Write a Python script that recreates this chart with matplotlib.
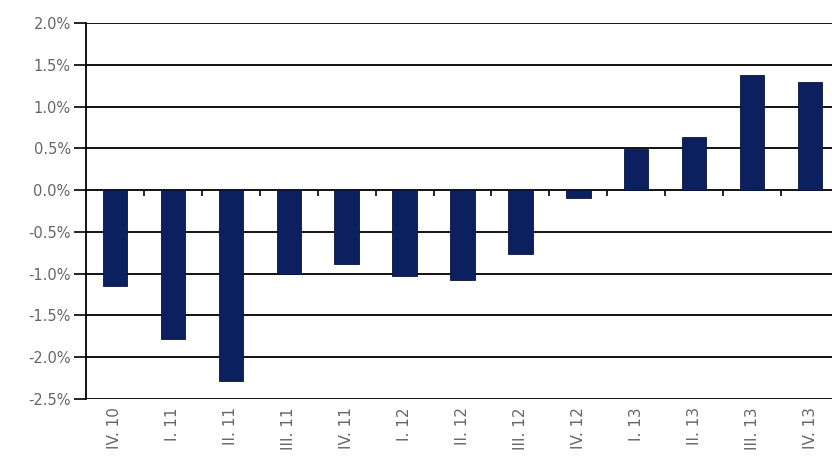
import matplotlib
matplotlib.use("Agg")
import matplotlib.pyplot as plt
import numpy as np

categories = ["IV. 10", "I. 11", "II. 11", "III. 11", "IV. 11", "I. 12", "II. 12",
              "III. 12", "IV. 12", "I. 13", "II. 13", "III. 13", "IV. 13"]
values = [-1.15, -1.78, -2.29, -1.00, -0.89, -1.03, -1.08, -0.76, -0.09,
          0.49, 0.64, 1.38, 1.29]
yticks = [2.0, 1.5, 1.0, 0.5, 0.0, -0.5, -1.0, -1.5, -2.0, -2.5]

plt.rcParams['font.family'] = ['DejaVu Sans']

fig = plt.figure(figsize=(8.32, 4.67), dpi=100)
ax = fig.add_axes([86/832, 1-399/467, (839-86)/832, (399-23)/467])

x = np.arange(len(categories))
ax.bar(x, values, width=0.42, color="#0c1f5e", edgecolor="#07143f", linewidth=0.6, zorder=3)

ax.set_xlim(-0.5, len(categories) - 0.5)
ax.set_ylim(-2.5, 2.0)
ax.set_yticks(yticks)
ax.set_yticklabels([f"{v:.1f}%" for v in yticks], color="#666666", fontsize=10.5)
ax.tick_params(axis='y', direction='out', length=9, width=1.2, color='black', pad=2)

for v in yticks:
    ax.axhline(v, color='black', linewidth=1.3, zorder=1)

for s in ['top', 'right', 'bottom']:
    ax.spines[s].set_visible(False)
ax.spines['left'].set_linewidth(1.3)

# x axis at zero with tick marks between categories
ax.set_xticks([])
bounds = np.arange(0.5, len(categories) - 0.5, 1.0)
ax.vlines(bounds, -0.07, 0, color='black', linewidth=1.2, zorder=2)

for xi, lab in zip(x, categories):
    ax.text(xi, -0.022, lab, transform=ax.get_xaxis_transform(), rotation=90,
            ha='center', va='top', fontsize=11, color="#666666")

fig.savefig("out.png", dpi=100)
